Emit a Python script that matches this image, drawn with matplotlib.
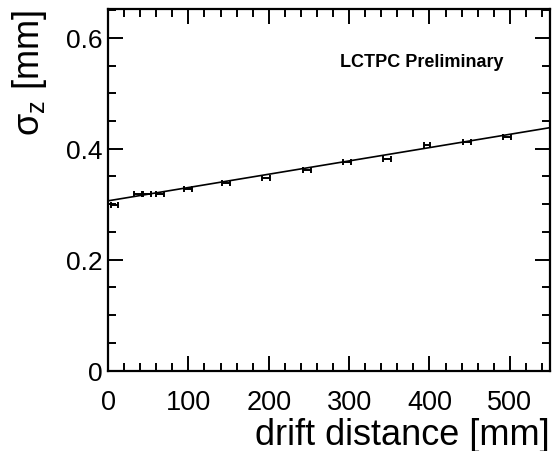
import matplotlib
matplotlib.use("Agg")
import matplotlib.pyplot as plt
import numpy as np
from matplotlib.ticker import MultipleLocator

plt.rcParams['font.family'] = ['Liberation Sans', 'DejaVu Sans']
plt.rcParams['mathtext.fontset'] = 'custom'
plt.rcParams['mathtext.rm'] = 'Liberation Sans'
plt.rcParams['mathtext.it'] = 'Liberation Sans'

# data
drift_mm = [8, 37, 48, 65, 100, 147, 197, 248, 297, 347, 397, 447, 497]
sigma_z = [0.298, 0.318, 0.318, 0.318, 0.327, 0.3375, 0.348, 0.361, 0.376, 0.382, 0.406, 0.412, 0.421]
drift_err = [4, 5, 5, 5, 5, 5, 5, 5, 5, 5, 4, 5, 5]

fit_intercept = 0.306
fit_slope = 0.00024
fit_range = [0, 550]

fig = plt.figure(figsize=(5.52, 4.52), dpi=100)
ax = fig.add_axes([108/552, 1 - 371.5/452, (550-108)/552, (371.5-10)/452])

ax.errorbar(drift_mm, sigma_z, xerr=drift_err, fmt='none',
            ecolor='black', elinewidth=1.4, capsize=2.5, capthick=1.4)
xf = np.array(fit_range)
ax.plot(xf, fit_intercept + fit_slope * xf, color='black', lw=1.2)

ax.set_xlim(0, 550)
ax.set_ylim(0, 0.652)
ax.xaxis.set_major_locator(MultipleLocator(100))
ax.xaxis.set_minor_locator(MultipleLocator(20))
ax.yaxis.set_major_locator(MultipleLocator(0.2))
ax.yaxis.set_minor_locator(MultipleLocator(0.05))
ax.set_yticks([0, 0.2, 0.4, 0.6])
ax.set_yticklabels(['0', '0.2', '0.4', '0.6'])

ax.tick_params(which='both', direction='in', top=True, right=True, width=1.4)
ax.tick_params(which='major', length=11)
ax.tick_params(which='minor', length=6)
ax.tick_params(axis='x', which='major', labelsize=19.5, pad=13)
ax.tick_params(axis='y', which='major', labelsize=19, pad=4)
for s in ax.spines.values():
    s.set_linewidth(1.6)

ax.set_xlabel('drift distance [mm]', fontsize=26, loc='right', labelpad=2)
ax.set_ylabel(r'σ$_\mathregular{z}$ [mm]', fontsize=26, loc='top', labelpad=12)

ax.text(289, 0.558, 'LCTPC Preliminary', fontsize=13,
        fontweight='bold', ha='left', va='center')

fig.savefig('out.png', dpi=100)
